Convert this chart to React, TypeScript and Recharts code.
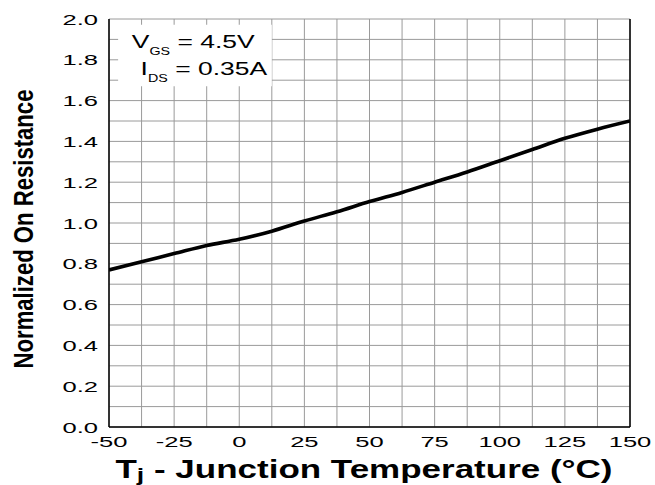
import React from 'react';
import { LineChart, Line, XAxis, YAxis, CartesianGrid, ReferenceLine, ReferenceArea } from 'recharts';

const temps = [-50, -37.5, -25, -12.5, 0, 12.5, 25, 37.5, 50, 62.5, 75, 87.5, 100, 112.5, 125, 137.5, 150];
const resistance = [0.77, 0.81, 0.85, 0.89, 0.92, 0.96, 1.01, 1.055, 1.105, 1.15, 1.2, 1.25, 1.305, 1.36, 1.415, 1.46, 1.5];
const xGridTicks = [-50, -37.5, -25, -12.5, 0, 12.5, 25, 37.5, 50, 62.5, 75, 87.5, 100, 112.5, 125, 137.5, 150];
const xLabelTicks = [-50, -25, 0, 25, 50, 75, 100, 125, 150];
const yGridTicks = [0, 0.1, 0.2, 0.3, 0.4, 0.5, 0.6, 0.7, 0.8, 0.9, 1.0, 1.1, 1.2, 1.3, 1.4, 1.5, 1.6, 1.7, 1.8, 1.9, 2.0];
const yLabelTicks = ['0.0', '0.2', '0.4', '0.6', '0.8', '1.0', '1.2', '1.4', '1.6', '1.8', '2.0'];

const data = temps.map((t, i) => ({ t, r: resistance[i] }));

const FONT = '"Liberation Sans", Arial, Helvetica, sans-serif';
const TICK_SX = 1.65;

const XTick = (props: any) => {
  const { x, y, payload } = props;
  const v = payload.value;
  if (!xLabelTicks.includes(v)) return <g />;
  return (
    <g transform={`translate(${x},${y}) scale(${TICK_SX},1)`}>
      <text x={0} y={0} dy="0.71em" textAnchor="middle" fontSize={15.5} fontFamily={FONT} fill="#000">
        {String(v)}
      </text>
    </g>
  );
};

const YTick = (props: any) => {
  const { x, y, payload } = props;
  const label = Number(payload.value).toFixed(1);
  if (!yLabelTicks.includes(label)) return <g />;
  return (
    <g transform={`translate(${x},${y}) scale(${TICK_SX},1)`}>
      <text x={0} y={0} dy="0.355em" textAnchor="end" fontSize={15.5} fontFamily={FONT} fill="#000">
        {label}
      </text>
    </g>
  );
};

const XTitle = (props: any) => {
  const vb = props.viewBox || { x: 109, y: 427, width: 521, height: 58 };
  const cx = vb.x + vb.width / 2 - 5.5;
  const by = vb.y + 51;
  return (
    <g transform={`translate(${cx},${by}) scale(1.4,1)`}>
      <text x={0} y={0} textAnchor="middle" fontSize={25} fontWeight="bold" fontFamily={FONT} fill="#000">
        T<tspan fontSize={19} dy={3}>j</tspan>
        <tspan dy={-3}> - Junction Temperature (°C)</tspan>
      </text>
    </g>
  );
};

const YTitle = (props: any) => {
  const vb = props.viewBox || { x: 0, y: 19, width: 109, height: 408 };
  const cy = vb.y + vb.height / 2 + 6;
  return (
    <g transform={`translate(33,${cy}) rotate(-90) scale(0.79,1)`}>
      <text x={0} y={0} textAnchor="middle" fontSize={28} fontWeight="bold" fontFamily={FONT} fill="#000">
        Normalized On Resistance
      </text>
    </g>
  );
};

const Annotation = (props: any) => {
  const vb = props.viewBox || { x: 118, y: 25, width: 152, height: 61 };
  const x0 = vb.x;
  const y0 = vb.y;
  return (
    <g>
      <g transform={`translate(${x0 + 13.7},${y0 + 23.5}) scale(1.43,1)`}>
        <text x={0} y={0} fontSize={18.5} fontFamily={FONT} fill="#000">
          V<tspan fontSize={10} dy={6.5}>GS</tspan>
          <tspan dy={-6.5}> = 4.5V</tspan>
        </text>
      </g>
      <g transform={`translate(${x0 + 22.5},${y0 + 50.5}) scale(1.43,1)`}>
        <text x={0} y={0} fontSize={18.5} fontFamily={FONT} fill="#000">
          I<tspan fontSize={10} dy={6.5}>DS</tspan>
          <tspan dy={-6.5}> = 0.35A</tspan>
        </text>
      </g>
    </g>
  );
};

export default function App() {
  return (
    <div style={{ position: 'absolute', left: 0, top: 0, background: '#fff' }}>
      <LineChart width={655} height={485} data={data} margin={{ top: 19, right: 25, bottom: 0, left: 0 }}>
        <CartesianGrid stroke="#9a9a9a" strokeWidth={1} horizontalValues={yGridTicks} verticalValues={xGridTicks} />
        <ReferenceArea
          x1={-46.5}
          x2={12.5}
          y1={1.67}
          y2={1.972}
          fill="#ffffff"
          fillOpacity={1}
          stroke="none"
          label={<Annotation />}
          ifOverflow="visible"
        />
        <XAxis
          dataKey="t"
          type="number"
          domain={[-50, 150]}
          ticks={xGridTicks}
          interval={0}
          height={58}
          tickLine={false}
          tickSize={6}
          tickMargin={3}
          axisLine={{ stroke: '#000', strokeWidth: 1.5 }}
          tick={<XTick />}
          label={<XTitle />}
          allowDataOverflow
        />
        <YAxis
          type="number"
          domain={[0, 2]}
          ticks={yGridTicks}
          interval={0}
          width={109}
          tickLine={false}
          tickSize={6}
          tickMargin={5}
          axisLine={{ stroke: '#000', strokeWidth: 1.5 }}
          tick={<YTick />}
          label={<YTitle />}
          allowDataOverflow
        />
        <ReferenceLine x={150} stroke="#000" strokeWidth={1.5} />
        <Line
          type="monotone"
          dataKey="r"
          stroke="#000"
          strokeWidth={3.6}
          dot={false}
          isAnimationActive={false}
        />
      </LineChart>
    </div>
  );
}
